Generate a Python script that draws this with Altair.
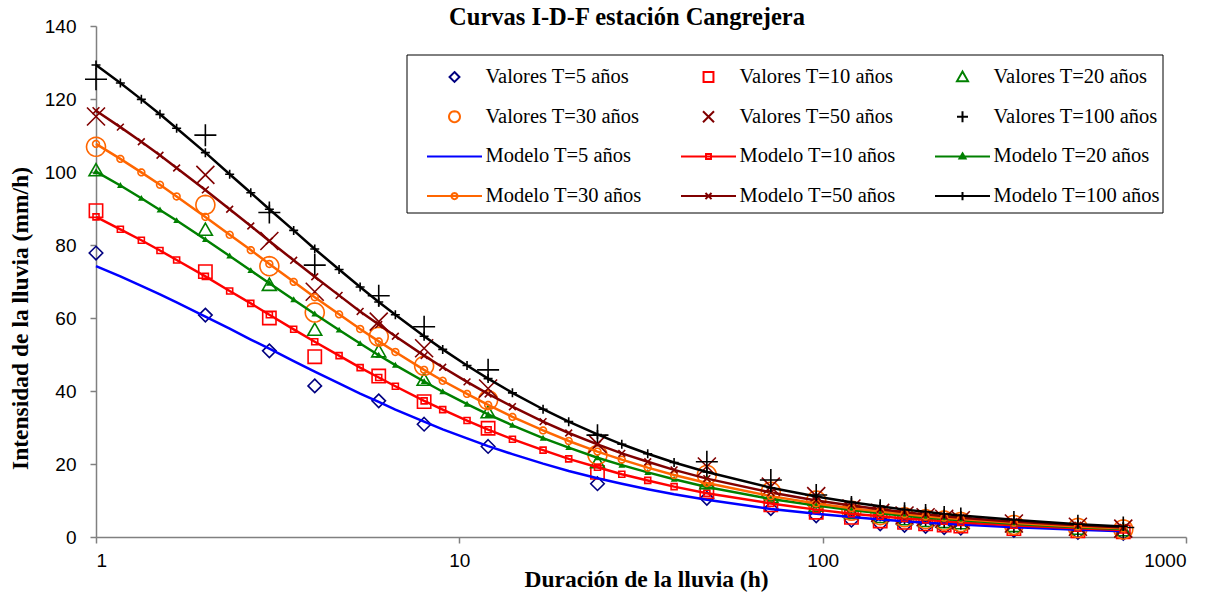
import math

import altair as alt
import pandas as pd

# ---------------------------------------------------------------------------
# Datos
# ---------------------------------------------------------------------------
periodos = [5, 10, 20, 30, 50, 100]

# Duraciones con intensidades observadas (h)
dur_obs = [1, 2, 3, 4, 6, 8, 12, 24, 48, 72, 96, 120, 144, 168, 192, 216, 240, 336, 504, 672]

val_t5 = [77.8, 60.8, 51.0, 41.4, 37.3, 30.9, 24.8, 14.6, 10.6, 7.8, 5.8, 4.6, 3.6, 3.2, 2.9, 2.6, 2.4, 1.8, 1.3, 1.0]
val_t10 = [89.4, 72.7, 60.0, 49.4, 44.1, 37.1, 29.8, 17.7, 12.4, 8.8, 6.8, 5.4, 4.4, 4.0, 3.6, 3.3, 3.0, 2.3, 1.7, 1.4]
val_t20 = [100.4, 84.1, 69.0, 56.7, 50.8, 43.0, 34.1, 20.4, 14.7, 10.9, 8.5, 6.5, 5.4, 4.8, 4.3, 4.0, 3.7, 2.9, 2.2, 1.8]
val_t30 = [106.9, 91.0, 74.2, 61.5, 54.9, 46.9, 37.5, 22.5, 17.0, 12.4, 10.0, 7.2, 6.0, 5.4, 4.9, 4.5, 4.1, 3.3, 2.5, 2.1]
val_t50 = [115.2, 99.2, 81.1, 67.2, 59.0, 51.7, 40.7, 25.5, 19.3, 13.8, 11.2, 7.8, 6.6, 5.9, 5.4, 5.0, 4.6, 3.7, 2.8, 2.3]
val_t100 = [125.4, 110.1, 88.9, 74.5, 66.1, 57.6, 45.8, 27.9, 20.6, 15.6, 11.5, 8.2, 7.3, 6.5, 6.0, 5.5, 5.1, 4.1, 3.1, 2.6]

# Duraciones en las que se evalúa el modelo (h)
dur_mod = [1, 1.167, 1.333, 1.5, 1.667, 2, 2.333, 2.667, 3, 3.5, 4, 4.667, 5.333, 6, 6.667,
           8, 9, 10.5, 12, 14, 17, 20, 24, 28, 33, 39, 48, 72, 96, 120, 144, 168, 192, 216,
           240, 336, 504, 672]

mod_t5 = [74.2, 71.4, 68.8, 66.5, 64.3, 60.4, 57.1, 54.1, 51.6, 48.2, 45.3, 42.1, 39.3, 37.0, 34.9,
          31.6, 29.5, 27.0, 24.9, 22.7, 20.1, 18.1, 16.1, 14.6, 13.1, 11.7, 10.2, 7.7, 6.4, 5.5,
          4.8, 4.3, 3.9, 3.6, 3.4, 2.7, 2.0, 1.6]
mod_t10 = [87.7, 84.3, 81.3, 78.5, 75.9, 71.4, 67.4, 64.0, 60.9, 56.9, 53.5, 49.7, 46.4, 43.7, 41.3,
           37.3, 34.9, 31.9, 29.4, 26.8, 23.8, 21.4, 19.1, 17.2, 15.5, 13.8, 12.0, 9.2, 7.5, 6.4,
           5.7, 5.1, 4.7, 4.3, 4.0, 3.2, 2.4, 1.9]
mod_t20 = [100.1, 96.3, 92.8, 89.6, 86.7, 81.5, 77.0, 73.0, 69.5, 65.0, 61.1, 56.7, 53.0, 49.8, 47.1,
           42.6, 39.8, 36.4, 33.6, 30.6, 27.1, 24.5, 21.7, 19.7, 17.7, 15.8, 13.7, 10.4, 8.6, 7.4,
           6.5, 5.8, 5.3, 4.9, 4.6, 3.6, 2.7, 2.2]
mod_t30 = [107.7, 103.6, 99.9, 96.5, 93.3, 87.7, 82.8, 78.6, 74.8, 69.9, 65.7, 61.0, 57.0, 53.6, 50.7,
           45.8, 42.8, 39.2, 36.2, 32.9, 29.2, 26.3, 23.4, 21.2, 19.0, 17.0, 14.8, 11.2, 9.2, 7.9,
           7.0, 6.3, 5.7, 5.3, 4.9, 3.9, 2.9, 2.4]
mod_t50 = [116.8, 112.3, 108.3, 104.6, 101.1, 95.1, 89.8, 85.2, 81.1, 75.8, 71.3, 66.2, 61.8, 58.2, 55.0,
           49.7, 46.5, 42.5, 39.2, 35.7, 31.6, 28.5, 25.4, 22.9, 20.6, 18.4, 16.0, 12.2, 10.0, 8.6,
           7.6, 6.8, 6.2, 5.7, 5.3, 4.2, 3.2, 2.6]
mod_t100 = [129.3, 124.4, 119.9, 115.8, 112.0, 105.3, 99.4, 94.3, 89.8, 84.0, 78.9, 73.3, 68.5, 64.4, 60.9,
            55.0, 51.4, 47.0, 43.4, 39.5, 35.0, 31.6, 28.1, 25.4, 22.8, 20.4, 17.8, 13.5, 11.1, 9.5,
            8.4, 7.5, 6.9, 6.3, 5.9, 4.7, 3.5, 2.9]

valores_obs = [val_t5, val_t10, val_t20, val_t30, val_t50, val_t100]
valores_mod = [mod_t5, mod_t10, mod_t20, mod_t30, mod_t50, mod_t100]

etiquetas_val = [f"Valores T={t} años" for t in periodos]
etiquetas_mod = [f"Modelo T={t} años" for t in periodos]

filas_val = [
    {"duracion": d, "intensidad": v, "serie": etq}
    for etq, serie in zip(etiquetas_val, valores_obs)
    for d, v in zip(dur_obs, serie)
]
filas_mod = [
    {"duracion": d, "intensidad": v, "serie": etq}
    for etq, serie in zip(etiquetas_mod, valores_mod)
    for d, v in zip(dur_mod, serie)
]
df_val = pd.DataFrame(filas_val)
df_mod = pd.DataFrame(filas_mod)

dominio = etiquetas_val + etiquetas_mod
df_leyenda = pd.DataFrame({"serie": dominio, "orden": list(range(len(dominio)))})

# ---------------------------------------------------------------------------
# Estilo
# ---------------------------------------------------------------------------
NARANJA = "#FF6600"
GRANATE = "#800000"
colores_val = ["#000080", "#FF0000", "#008000", NARANJA, GRANATE, "#000000"]
colores_mod = ["#0000FF", "#FF0000", "#008000", NARANJA, GRANATE, "#000000"]


def circulo(r, n=24):
    pts = [(r * math.cos(2 * math.pi * k / n), r * math.sin(2 * math.pi * k / n)) for k in range(n)]
    return "M" + "L".join(f"{x:.3f},{y:.3f}" for x, y in pts) + "Z"


# Formas a escala unitaria para los marcadores del gráfico
f_rombo = "M0,-1L1,0L0,1L-1,0Z"
f_cuadro = "M-1,-1H1V1H-1Z"
f_triang = "M0,-1L1,0.75L-1,0.75Z"
f_circ = circulo(1)
f_aspa = "M-1,-1L1,1M-1,1L1,-1"
f_cruz = "M-1,0H1M0,-1V1"
formas_val = [f_rombo, f_cuadro, f_triang, f_circ, f_aspa, f_cruz]
tam_val = [182, 177, 196, 361, 324, 484]

# Marcadores pequeños sobre las curvas del modelo (T=5 va sin marcador)
formas_mod = [None, f_cuadro, f_triang, f_circ, f_aspa, f_cruz]
tam_mod = [0, 36, 46, 46, 46, 81]
relleno_mod = [False, False, True, False, False, False]

# Símbolos de la leyenda (caja de 55 px: 1 unidad = 27.5 px)
ley_formas = [
    "M0,-0.18L0.18,0L0,0.18L-0.18,0Z",
    "M-0.18,-0.18H0.18V0.18H-0.18Z",
    "M0,-0.2L0.2,0.15L-0.2,0.15Z",
    circulo(0.2),
    "M-0.2,-0.2L0.2,0.2M-0.2,0.2L0.2,-0.2",
    "M-0.2,0H0.2M0,-0.2V0.2",
    "M-1,0H1",
    "M-1,0H1M-0.09,-0.09H0.09V0.09H-0.09Z",
    "M-1,0H1M0,-0.11L0.11,0.08L-0.11,0.08Z",
    "M-1,0H1" + circulo(0.11),
    "M-1,0H1M-0.11,-0.11L0.11,0.11M-0.11,0.11L0.11,-0.11",
    "M-1,0H1M0,-0.15V0.15",
]

escala_color = alt.Scale(domain=dominio, range=colores_val + colores_mod)
escala_forma = alt.Scale(domain=dominio, range=ley_formas)

FUENTE_SERIF = "Liberation Serif"
FUENTE_SANS = "Liberation Sans"

eje_x = alt.X(
    "duracion:Q",
    scale=alt.Scale(type="log", domain=[1, 1000], nice=False),
    axis=alt.Axis(
        values=[1, 10, 100, 1000], format="d", title="Duración de la lluvia (h)",
        titleX=550, titleY=42, titleAlign="center", titleBaseline="middle",
        labelPadding=8,
    ),
)
eje_y = alt.Y(
    "intensidad:Q",
    scale=alt.Scale(domain=[0, 140], nice=False),
    axis=alt.Axis(
        values=list(range(0, 141, 20)), title="Intensidad de la lluvia (mm/h)",
        titleX=-76, titleY=292, titleAngle=270, titleAlign="center", titleBaseline="middle",
        labelPadding=14,
    ),
)

capas = []

# Valores observados
for etq, color, forma, tam in zip(etiquetas_val, colores_val, formas_val, tam_val):
    capas.append(
        alt.Chart(df_val)
        .transform_filter(alt.datum.serie == etq)
        .mark_point(filled=False, opacity=1, strokeWidth=1.6, color=color, shape=forma, size=tam)
        .encode(x=eje_x, y=eje_y)
    )

# Curvas del modelo
capas.append(
    alt.Chart(df_mod)
    .mark_line(strokeWidth=2.5)
    .encode(
        x=eje_x, y=eje_y,
        color=alt.Color("serie:N", scale=escala_color, legend=None),
        order=alt.Order("duracion:Q"),
    )
)

for etq, color, forma, tam, relleno in zip(etiquetas_mod, colores_mod, formas_mod, tam_mod, relleno_mod):
    if forma is None:
        continue
    capas.append(
        alt.Chart(df_mod)
        .transform_filter(alt.datum.serie == etq)
        .mark_point(filled=relleno, opacity=1, strokeWidth=1.6, color=color, shape=forma, size=tam)
        .encode(x=eje_x, y=eje_y)
    )

# ---------------------------------------------------------------------------
# Leyenda en rejilla de 3 columnas dentro del área de trazado
# ---------------------------------------------------------------------------
caja = alt.Chart(pd.DataFrame({"k": [0]})).mark_rect(
    fill="#FFFFFF", stroke="#000000", strokeWidth=1
).encode(x=alt.value(311), x2=alt.value(1067), y=alt.value(29), y2=alt.value(187))

base_ley = (
    alt.Chart(df_leyenda)
    .transform_calculate(col="datum.orden % 3", fila="floor(datum.orden / 3)")
    .transform_calculate(
        sx="358.5 + 254 * datum.col",
        tx="389.5 + 254 * datum.col",
        ly="51 + 39.7 * datum.fila",
    )
)
simbolos = base_ley.mark_point(filled=False, opacity=1, strokeWidth=2, size=3025).encode(
    x=alt.X("sx:Q", scale=None, axis=None),
    y=alt.Y("ly:Q", scale=None, axis=None),
    color=alt.Color("serie:N", scale=escala_color, legend=None),
    shape=alt.Shape("serie:N", scale=escala_forma, legend=None),
)
textos = base_ley.mark_text(
    align="left", baseline="middle", font=FUENTE_SERIF, fontSize=20.5, color="#000000"
).encode(
    x=alt.X("tx:Q", scale=None, axis=None),
    y=alt.Y("ly:Q", scale=None, axis=None),
    text="serie:N",
)
capas += [caja, simbolos, textos]

chart = (
    alt.layer(*capas)
    .properties(
        width=1090,
        height=511,
        autosize=alt.AutoSizeParams(type="none"),
        padding={"left": 96, "top": 26, "right": 32, "bottom": 57},
        title=alt.Title(
            "Curvas I-D-F estación Cangrejera",
            font=FUENTE_SERIF, fontSize=24.5, fontWeight="bold", color="#000000",
            anchor="middle", frame="group", offset=0, baseline="alphabetic", dx=-14, dy=32,
        ),
    )
    .configure_view(stroke=None)
    .configure_axis(
        grid=False,
        domainColor="#808080", domainWidth=1.5,
        tickColor="#808080", tickWidth=1.5, tickSize=6,
        labelFont=FUENTE_SANS, labelFontSize=19, labelColor="#000000",
        titleFont=FUENTE_SERIF, titleFontSize=23.5, titleFontWeight="bold", titleColor="#000000",
    )
)

chart.save("out.html", embed_options={"renderer": "svg", "actions": False})
